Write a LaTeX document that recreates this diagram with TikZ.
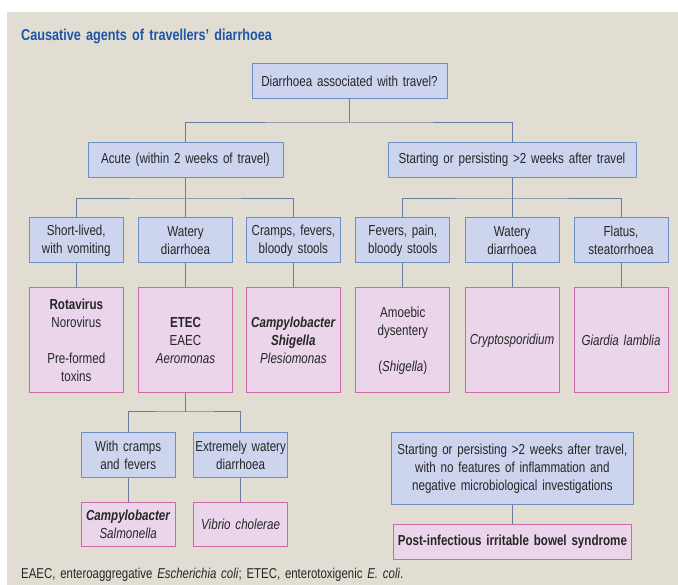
\documentclass[tikz,border=0pt]{standalone}
\usepackage{fontspec}
\setmainfont[FakeStretch=0.8,WordSpace=1.5]{Liberation Sans}
\definecolor{paper}{RGB}{226,221,211}
\definecolor{boxfill}{RGB}{205,213,238}
\definecolor{boxline}{RGB}{108,142,192}
\definecolor{agentfill}{RGB}{234,213,234}
\definecolor{agentline}{RGB}{206,104,170}
\definecolor{linkc}{RGB}{104,126,158}
\definecolor{titleblue}{RGB}{28,86,166}
\definecolor{ink}{RGB}{38,38,38}

\begin{document}
\begin{tikzpicture}[x=1pt,y=-1pt,
  qbox/.style={draw=boxline,fill=boxfill,line width=1pt,align=center,inner sep=0pt,
    text=ink,font=\fontsize{14.5}{18}\selectfont},
  agent/.style={qbox,draw=agentline,fill=agentfill},
  link/.style={draw=linkc,line width=1pt}]
\fill[white] (0,0) rectangle (678,585);
\fill[paper] (7,12) rectangle (678,585);
\useasboundingbox (0,0) rectangle (678,585);

\node[anchor=base west,inner sep=0pt,text=titleblue,font=\fontsize{15.8}{18}\selectfont\bfseries] (title) at (21,41) {Causative agents of travellers’ diarrhoea};

\node[qbox,minimum width=195,minimum height=35] (q) at (349.5,81.5) {Diarrhoea associated with travel?};

\node[qbox,minimum width=195,minimum height=35] (acute) at (185.5,160) {Acute (within 2 weeks of travel)};
\node[qbox,minimum width=248,minimum height=35] (late) at (512,160) {Starting or persisting >2 weeks after travel};

% symptoms
\node[qbox,minimum width=94,minimum height=45] (s1) at (76.3,240.5) {Short-lived,\\with vomiting};
\node[qbox,minimum width=94,minimum height=45] (s2) at (185.5,240.5) {Watery\\diarrhoea};
\node[qbox,minimum width=94,minimum height=45] (s3) at (293.4,240.5) {Cramps, fevers,\\bloody stools};
\node[qbox,minimum width=94,minimum height=45] (s4) at (402.8,240.5) {Fevers, pain,\\bloody stools};
\node[qbox,minimum width=94,minimum height=45] (s5) at (512,240.5) {Watery\\diarrhoea};
\node[qbox,minimum width=94,minimum height=45] (s6) at (621,240.5) {Flatus,\\steatorrhoea};

% agents
\node[agent,minimum width=94,minimum height=105] (a1) at (76.3,340.5) {\textbf{Rotavirus}\\Norovirus\\[18pt]Pre-formed\\toxins};
\node[agent,minimum width=94,minimum height=105] (a2) at (185.5,340.5) {\textbf{ETEC}\\EAEC\\\textit{Aeromonas}};
\node[agent,minimum width=94,minimum height=105] (a3) at (293.4,340.5) {\textbf{\textit{Campylobacter}}\\\textbf{\textit{Shigella}}\\\textit{Plesiomonas}};
\node[agent,minimum width=94,minimum height=105] (a4) at (402.8,340.5) {Amoebic\\dysentery\\[18pt](\textit{Shigella})};
\node[agent,minimum width=94,minimum height=105] (a5) at (512,340.5) {\textit{Cryptosporidium}};
\node[agent,minimum width=94,minimum height=105] (a6) at (621,340.5) {\textit{Giardia lamblia}};

\node[qbox,minimum width=94,minimum height=44] (w1) at (128.2,455) {With cramps\\and fevers};
\node[qbox,minimum width=94,minimum height=44] (w2) at (240.6,455) {Extremely watery\\diarrhoea};
\node[agent,minimum width=94,minimum height=44] (b1) at (128.2,524) {\textbf{\textit{Campylobacter}}\\\textit{Salmonella}};
\node[agent,minimum width=94,minimum height=44] (b2) at (240.6,524) {\textit{Vibrio cholerae}};

\node[qbox,minimum width=242,minimum height=71] (persist) at (512.4,468.5) {Starting or persisting >2 weeks after travel,\\with no features of inflammation and\\negative microbiological investigations};
\node[agent,minimum width=238,minimum height=35] (pibs) at (512.4,541.5) {\textbf{Post-infectious irritable bowel syndrome}};

\node[anchor=base west,inner sep=0pt,text=ink,font=\fontsize{14.3}{16}\selectfont] (note) at (21,578) {EAEC, enteroaggregative \textit{Escherichia coli}; ETEC, enterotoxigenic \textit{E. coli}.};

% connectors
\coordinate (j0) at (349.5,123);
\draw[link] (q.south) -- (j0);
\draw[link] (acute.north) |- (j0) -| (late.north);

\coordinate (j1) at (185.5,199);
\coordinate (j2) at (512,199);
\draw[link] (acute.south) -- (j1);
\draw[link] (s1.north) |- (j1) -| (s3.north);
\draw[link] (j1) -- (s2.north);
\draw[link] (late.south) -- (j2);
\draw[link] (s4.north) |- (j2) -| (s6.north);
\draw[link] (j2) -- (s5.north);

\draw[link] (s1) -- (a1);
\draw[link] (s2) -- (a2);
\draw[link] (s3) -- (a3);
\draw[link] (s4) -- (a4);
\draw[link] (s5) -- (a5);
\draw[link] (s6) -- (a6);

\coordinate (j3) at (185.5,412);
\draw[link] (a2.south) -- (j3);
\draw[link] (w1.north) |- (j3) -| (w2.north);
\draw[link] (w1) -- (b1);
\draw[link] (w2) -- (b2);
\draw[link] (persist) -- (pibs);
\end{tikzpicture}
\end{document}
